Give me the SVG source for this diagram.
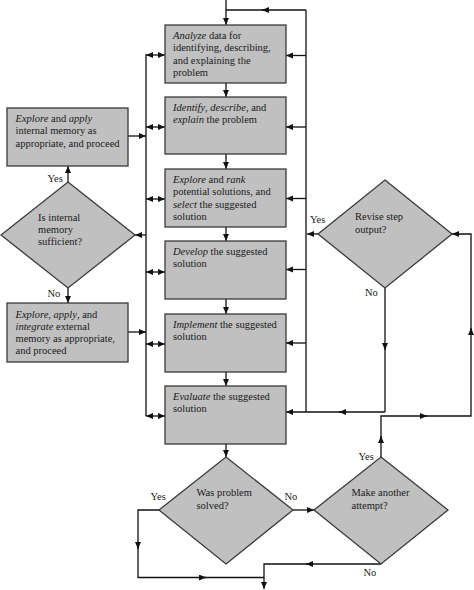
<svg xmlns="http://www.w3.org/2000/svg" width="474" height="590" viewBox="0 0 474 590">
<style>
.box{fill:#c0c0c0;stroke:#3a3a3a;stroke-width:1.3}
.t{font-family:"Liberation Serif","Times New Roman",serif;font-size:10.5px;fill:#1a1a1a}
.ln{fill:none;stroke:#111;stroke-width:1.3}
.a{marker-end:url(#ah)}
.d{marker-start:url(#ah);marker-end:url(#ah)}
</style>
<defs>
<marker id="ah" markerUnits="userSpaceOnUse" markerWidth="8" markerHeight="7" refX="7" refY="3" orient="auto-start-reverse">
<path d="M0,0 L7,3 L0,6 z" fill="#111"/>
</marker>
</defs>
<rect width="474" height="590" fill="#fff"/>

<g id="connectors">
<path class="ln a" d="M226,0 V25"/>
<path class="ln a" d="M306,10 H262"/>
<path class="ln" d="M264,10 H226"/>
<path class="ln a" d="M226,83 V97"/>
<path class="ln a" d="M226,154 V169"/>
<path class="ln a" d="M226,227 V241"/>
<path class="ln a" d="M226,299 V314"/>
<path class="ln a" d="M226,372 V386"/>
<path class="ln a" d="M226,444 V457"/>
<path class="ln" d="M306,10 V412"/>
<path class="ln a" d="M306,55.5 H286"/>
<path class="ln a" d="M306,127 H286"/>
<path class="ln a" d="M306,198.5 H286"/>
<path class="ln a" d="M306,269.5 H286"/>
<path class="ln a" d="M306,343 H286"/>
<path class="ln a" d="M385,412 H339"/>
<path class="ln a" d="M341,412 H286"/>
<path class="ln a" d="M318,234 H307"/>
<path class="ln a" d="M385,288 V350"/>
<path class="ln" d="M385,348 V412"/>
<path class="ln a" d="M381,457 V436"/>
<path class="ln a" d="M381,438 V416 H427"/>
<path class="ln a" d="M425,416 H471 V328"/>
<path class="ln a" d="M471,330 V234 H452"/>
<path class="ln" d="M146,54 V416"/>
<path class="ln d" d="M146,55 H165"/>
<path class="ln d" d="M146,127 H165"/>
<path class="ln d" d="M146,199 H165"/>
<path class="ln d" d="M146,272 H165"/>
<path class="ln d" d="M146,344 H165"/>
<path class="ln d" d="M146,416 H165"/>
<path class="ln a" d="M128,136 H146"/>
<path class="ln a" d="M128,332 H146"/>
<path class="ln a" d="M146,235 H135"/>
<path class="ln a" d="M68,182 V166"/>
<path class="ln a" d="M68,288 V303"/>
<path class="ln a" d="M293,510 H314"/>
<path class="ln a" d="M159,510 H138 V549"/>
<path class="ln a" d="M138,547 V577.5 H206"/>
<path class="ln" d="M204,577.5 H264"/>
<path class="ln a" d="M381,564 H306"/>
<path class="ln a" d="M308,564 H264 V589"/>
</g>

<g id="analyze">
<rect class="box" x="165" y="25" width="121" height="58"/>
<text class="t" x="173" y="39"><tspan font-style="italic">Analyze</tspan> data for</text>
<text class="t" x="173" y="51.3">identifying, describing,</text>
<text class="t" x="173" y="63.6">and explaining the</text>
<text class="t" x="173" y="76">problem</text>
</g>

<g id="identify">
<rect class="box" x="165" y="97" width="121" height="57"/>
<text class="t" x="173" y="111"><tspan font-style="italic">Identify</tspan>, <tspan font-style="italic">describe</tspan>, and</text>
<text class="t" x="173" y="123.3"><tspan font-style="italic">explain</tspan> the problem</text>
</g>

<g id="explore-rank">
<rect class="box" x="165" y="169" width="121" height="58"/>
<text class="t" x="173" y="183"><tspan font-style="italic">Explore</tspan> and <tspan font-style="italic">rank</tspan></text>
<text class="t" x="173" y="195.3">potential solutions, and</text>
<text class="t" x="173" y="207.6"><tspan font-style="italic">select</tspan> the suggested</text>
<text class="t" x="173" y="220">solution</text>
</g>

<g id="develop">
<rect class="box" x="165" y="241" width="121" height="58"/>
<text class="t" x="173" y="255"><tspan font-style="italic">Develop</tspan> the suggested</text>
<text class="t" x="173" y="267.3">solution</text>
</g>

<g id="implement">
<rect class="box" x="165" y="314" width="121" height="58"/>
<text class="t" x="173" y="328"><tspan font-style="italic">Implement</tspan> the suggested</text>
<text class="t" x="173" y="340.3">solution</text>
</g>

<g id="evaluate">
<rect class="box" x="165" y="386" width="121" height="58"/>
<text class="t" x="173" y="400"><tspan font-style="italic">Evaluate</tspan> the suggested</text>
<text class="t" x="173" y="412.3">solution</text>
</g>

<g id="internal-apply">
<rect class="box" x="7" y="108" width="121" height="58"/>
<text class="t" x="15.5" y="122"><tspan font-style="italic">Explore</tspan> and <tspan font-style="italic">apply</tspan></text>
<text class="t" x="15.5" y="134.3">internal memory as</text>
<text class="t" x="15.5" y="146.6">appropriate, and proceed</text>
</g>

<g id="internal-sufficient">
<polygon class="box" points="68,182 135,235 68,288 1,235"/>
<text class="t" x="38" y="221">Is internal</text>
<text class="t" x="38" y="233">memory</text>
<text class="t" x="38" y="245">sufficient?</text>
<text class="t" x="47.5" y="181.5">Yes</text>
<text class="t" x="47.5" y="297">No</text>
</g>

<g id="external-apply">
<rect class="box" x="7" y="303" width="121" height="59"/>
<text class="t" x="15.5" y="317.5"><tspan font-style="italic">Explore</tspan>, <tspan font-style="italic">apply</tspan>, and</text>
<text class="t" x="15.5" y="329.8"><tspan font-style="italic">integrate</tspan> external</text>
<text class="t" x="15.5" y="342.1">memory as appropriate,</text>
<text class="t" x="15.5" y="354.4">and proceed</text>
</g>

<g id="revise">
<polygon class="box" points="385,180 452,234 385,288 318,234"/>
<text class="t" x="355" y="220">Revise step</text>
<text class="t" x="355" y="232.5">output?</text>
<text class="t" x="310" y="223">Yes</text>
<text class="t" x="365" y="296">No</text>
</g>

<g id="solved">
<polygon class="box" points="226,457 293,510 226,564 159,510"/>
<text class="t" x="196.5" y="496">Was problem</text>
<text class="t" x="196.5" y="508.5">solved?</text>
<text class="t" x="150.5" y="500">Yes</text>
<text class="t" x="284.5" y="500">No</text>
</g>

<g id="another-attempt">
<polygon class="box" points="381,457 448,510 381,564 314,510"/>
<text class="t" x="351.5" y="496">Make another</text>
<text class="t" x="351.5" y="508.5">attempt?</text>
<text class="t" x="358.5" y="459.5">Yes</text>
<text class="t" x="363.5" y="576">No</text>
</g>
</svg>
